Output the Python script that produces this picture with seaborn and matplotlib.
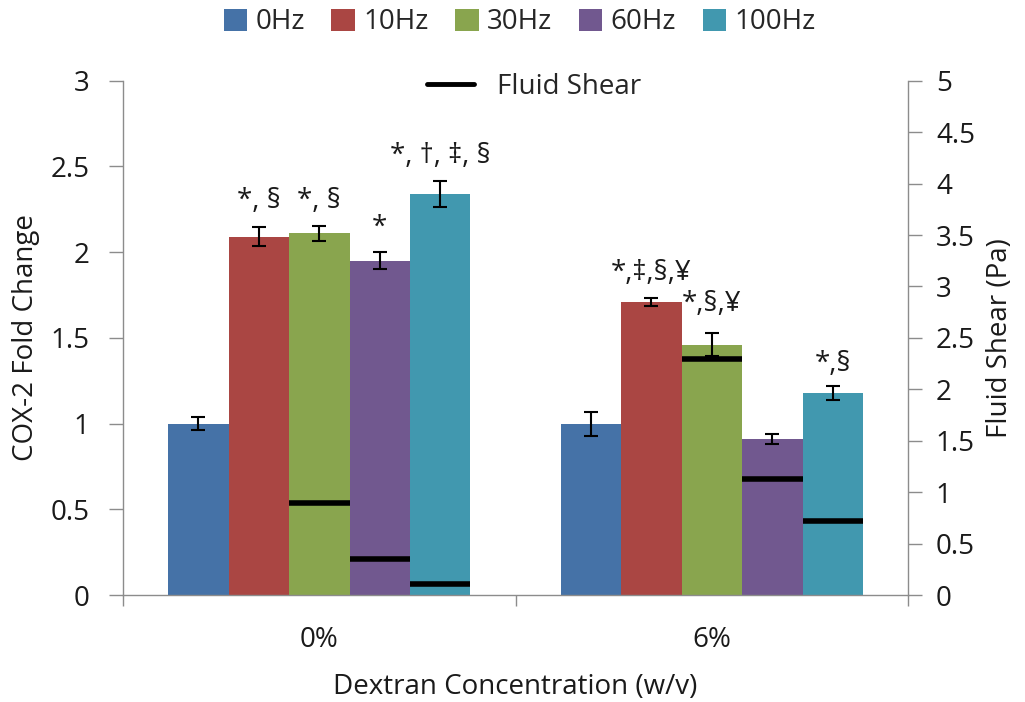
import numpy as np
import pandas as pd
import matplotlib
matplotlib.use("Agg")
import matplotlib.pyplot as plt
import seaborn as sns
from matplotlib.lines import Line2D
from matplotlib.patches import Patch
from matplotlib.container import BarContainer

# ---- data ----
concentrations = ["0%", "6%"]
frequencies = ["0Hz", "10Hz", "30Hz", "60Hz", "100Hz"]
cox_0 = [1.00, 2.09, 2.11, 1.95, 2.34]
cox_6 = [1.00, 1.71, 1.46, 0.91, 1.18]
err_0 = [0.04, 0.056, 0.044, 0.05, 0.076]
err_6 = [0.07, 0.023, 0.067, 0.03, 0.04]
shear_0 = [np.nan, np.nan, 0.89, 0.35, 0.11]
shear_6 = [np.nan, np.nan, 2.29, 1.13, 0.72]
notes_0 = ["", "*, §", "*, §", "*", "*, †, ‡, §"]
notes_6 = ["", "*,‡,§,¥", "*,§,¥", "", "*,§"]
note_y_0 = [None, 2.30, 2.30, 2.14, 2.56]
note_y_6 = [None, 1.88, 1.70, None, 1.35]
colors = ["#4572A7", "#AA4643", "#89A54E", "#71588F", "#4198AF"]

df = pd.DataFrame({
    "conc": [c for c in concentrations for _ in frequencies],
    "freq": frequencies * 2,
    "cox": cox_0 + cox_6,
})

sns.set_theme(style="white")
plt.rcParams["font.family"] = ["Open Sans", "DejaVu Sans"]
FS = 20

fig = plt.figure(figsize=(10.25, 7.02), dpi=100)
ax = fig.add_axes([0.12, 0.1524, 0.766, 0.7326])

sns.barplot(data=df, x="conc", y="cox", hue="freq", order=concentrations,
            hue_order=frequencies, palette=colors, width=0.77, saturation=1,
            errorbar=None, ax=ax, legend=False, linewidth=0)

errs = [err_0, err_6]
shears = [shear_0, shear_6]
notes = [notes_0, notes_6]
note_ys = [note_y_0, note_y_6]
vals = [cox_0, cox_6]

bar_conts = [c for c in ax.containers if isinstance(c, BarContainer)]
ax2 = ax.twinx()
for hi, cont in enumerate(bar_conts):
    for ci, patch in enumerate(cont.patches):
        xc = patch.get_x() + patch.get_width() / 2
        x0 = patch.get_x()
        x1 = patch.get_x() + patch.get_width()
        ax.errorbar(xc, vals[ci][hi], yerr=errs[ci][hi], fmt="none",
                    ecolor="black", elinewidth=1.5, capsize=5, capthick=1.5, zorder=5)
        s = shears[ci][hi]
        if not np.isnan(s):
            ax2.hlines(s, x0, x1, color="black", linewidth=4, zorder=6)
        if notes[ci][hi]:
            ax.text(xc, note_ys[ci][hi], notes[ci][hi], ha="center", va="center",
                    fontsize=FS, color="#1a1a1a")

ax.set_xlim(-0.5, 1.5)
ax2.set_xlim(-0.5, 1.5)
ax.set_ylim(0, 3)
ax2.set_ylim(0, 5)
ax.set_yticks(np.arange(0, 3.01, 0.5))
ax.set_yticklabels(["0", "0.5", "1", "1.5", "2", "2.5", "3"])
ax2.set_yticks(np.arange(0, 5.01, 0.5))
ax2.set_yticklabels(["0", "0.5", "1", "1.5", "2", "2.5", "3", "3.5", "4", "4.5", "5"])

for a in (ax, ax2):
    for sp in a.spines.values():
        sp.set_visible(False)
    a.grid(False)
ax.spines["left"].set_visible(True)
ax.spines["bottom"].set_visible(True)
ax2.spines["right"].set_visible(True)
for sp in (ax.spines["left"], ax.spines["bottom"], ax2.spines["right"]):
    sp.set_color("#8c8c8c")
    sp.set_linewidth(1.0)

ax.tick_params(axis="y", which="both", left=True, length=10, width=1, color="#8c8c8c",
               labelsize=FS, pad=14, labelcolor="#1a1a1a", direction="out")
ax2.tick_params(axis="y", right=True, length=10, width=1, color="#8c8c8c",
                labelsize=FS, pad=10, labelcolor="#1a1a1a", direction="out")
ax.tick_params(axis="x", bottom=False, labelsize=FS, pad=16, labelcolor="#1a1a1a")
ax.set_xticks([-0.5, 0.5, 1.5], minor=True)
ax.tick_params(axis="x", which="minor", bottom=True, length=8, width=1, color="#8c8c8c")

ax.set_xlabel("Dextran Concentration (w/v)", fontsize=FS, color="#1a1a1a", labelpad=14)
ax.set_ylabel("COX-2 Fold Change", fontsize=FS, color="#1a1a1a", labelpad=8)
ax2.set_ylabel("Fluid Shear (Pa)", fontsize=FS, color="#1a1a1a", labelpad=8)

handles = [Patch(facecolor=c, edgecolor="none") for c in colors]
fig.legend(handles, frequencies, loc="center", bbox_to_anchor=(0.507, 0.968), ncol=5,
           frameon=False, fontsize=FS, handlelength=0.85, handleheight=0.85,
           handletextpad=0.3, columnspacing=0.95)
fig.legend([Line2D([0], [0], color="black", linewidth=3.5)], ["Fluid Shear"],
           loc="center", bbox_to_anchor=(0.521, 0.876), frameon=False, fontsize=FS,
           handlelength=1.7, handletextpad=0.8)

fig.savefig("out.png", dpi=100)
